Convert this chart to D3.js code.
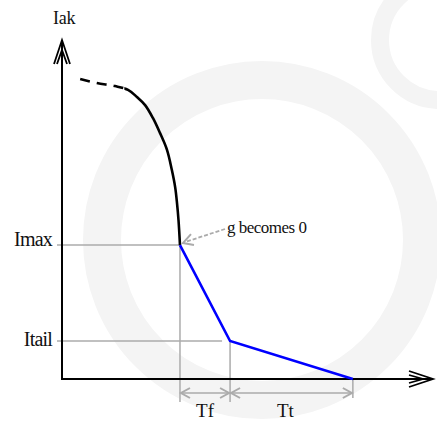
<!DOCTYPE html>
<html>
<head>
<meta charset="utf-8">
<script src="https://cdn.jsdelivr.net/npm/d3@7"></script>
<style>
  body { margin: 0; background: #fff; }
</style>
</head>
<body>
<div id="chart"></div>
<script>
// Curve before the switch-off point (time, current)
var curveTime = [0.49, 0.94, 1.43, 1.78, 2.02, 2.24, 2.45, 2.64, 2.83, 2.96, 3.05, 3.10, 3.14, 3.18];
var curveCurrent = [8.85, 8.73, 8.64, 8.53, 8.32, 8.08, 7.70, 7.26, 6.76, 6.17, 5.66, 5.19, 4.69, 3.95];
var dashedUntilTime = 1.68; // dashed part before this time

// Linear fall and tail segments
var segTime = [3.18, 4.53, 7.84];
var segCurrent = [3.95, 1.12, 0];

// Level labels and interval labels
var levelLabels = ["Imax", "Itail"];
var levelValues = [3.95, 1.12];
var intervalLabels = ["Tf", "Tt"];

var W = 437, H = 421;
var serif = "'Liberation Serif', 'DejaVu Serif', serif";
var svg = d3.select("#chart").append("svg")
    .attr("width", W).attr("height", H);

var x = d3.scaleLinear().domain([0, 10]).range([62, 433]);
var y = d3.scaleLinear().domain([0, 10]).range([379, 40]);

// faint watermark in the background
var wm = svg.append("g").attr("fill", "none").attr("stroke", "#f4f4f4");
wm.append("circle").attr("cx", 262).attr("cy", 240).attr("r", 160).attr("stroke-width", 38);
wm.append("circle").attr("cx", 440).attr("cy", 40).attr("r", 60).attr("stroke-width", 18);

var grey = "#ababab";

// guide lines for Imax / Itail
svg.selectAll(".hguide")
    .data(levelValues)
    .enter().append("line")
    .attr("x1", 57)
    .attr("x2", function(d, i) { return i == 0 ? x(segTime[0]) : x(segTime[1]) - 8; })
    .attr("y1", function(d) { return y(d); })
    .attr("y2", function(d) { return y(d); })
    .attr("stroke", grey).attr("stroke-width", 1.5);

// vertical guides down to the interval arrows
var vEnds = [402, 402, 398];
svg.selectAll(".vguide")
    .data(segTime)
    .enter().append("line")
    .attr("x1", function(d) { return x(d); })
    .attr("x2", function(d) { return x(d); })
    .attr("y1", function(d, i) { return y(segCurrent[i]); })
    .attr("y2", function(d, i) { return vEnds[i]; })
    .attr("stroke", grey).attr("stroke-width", 1.5);

// interval arrows Tf and Tt
var arrowY = 393;
function chevron(g, tipX, tipY, dir, col, len, half, sw) {
    g.append("path")
        .attr("d", "M" + (tipX + dir * len) + "," + (tipY - half) + "L" + tipX + "," + tipY + "L" + (tipX + dir * len) + "," + (tipY + half))
        .attr("fill", "none").attr("stroke", col).attr("stroke-width", sw);
}
var intervals = svg.append("g");
for (var i = 0; i < 2; i++) {
    var a = x(segTime[i]) + 1, b = x(segTime[i + 1]) - 1;
    intervals.append("line")
        .attr("x1", a).attr("x2", b).attr("y1", arrowY).attr("y2", arrowY)
        .attr("stroke", grey).attr("stroke-width", 1.5);
    chevron(intervals, a, arrowY, 1, grey, 9, 5, 2);
    chevron(intervals, b, arrowY, -1, grey, 9, 5, 2);
    svg.append("text")
        .attr("x", (a + b) / 2 + (i == 0 ? 0 : -6))
        .attr("y", 417)
        .attr("text-anchor", "middle")
        .attr("font-family", serif)
        .attr("font-size", 19)
        .attr("fill", "#111")
        .text(intervalLabels[i]);
}

// axes
svg.append("line").attr("x1", x(0)).attr("x2", x(0)).attr("y1", y(0)).attr("y2", y(10) + 2)
    .attr("stroke", "#000").attr("stroke-width", 2);
svg.append("line").attr("x1", x(0) - 1).attr("x2", x(10) - 2).attr("y1", y(0)).attr("y2", y(0))
    .attr("stroke", "#000").attr("stroke-width", 2);
// y arrow head
svg.append("path")
    .attr("d", "M54,64L62,40L70,64M57,64L62,50L67,64")
    .attr("fill", "none").attr("stroke", "#000").attr("stroke-width", 1.8);
// x arrow head
svg.append("path")
    .attr("d", "M409,371L433,379L409,387M409,375L423,379L409,383")
    .attr("fill", "none").attr("stroke", "#000").attr("stroke-width", 1.8);

// curve before Imax: one smooth path, dashed on the left, solid on the right
var pts = curveTime.map(function(t, i) { return [t, curveCurrent[i]]; });
var lineC = d3.line()
    .x(function(d) { return x(d[0]); })
    .y(function(d) { return y(d[1]); })
    .curve(d3.curveCatmullRom.alpha(0.5));
var defs = svg.append("defs");
defs.append("clipPath").attr("id", "left")
    .append("rect").attr("x", 0).attr("y", 0).attr("width", x(dashedUntilTime)).attr("height", H);
defs.append("clipPath").attr("id", "right")
    .append("rect").attr("x", x(dashedUntilTime)).attr("y", 0).attr("width", W).attr("height", H);

svg.append("path")
    .datum(pts)
    .attr("d", lineC)
    .attr("clip-path", "url(#left)")
    .attr("fill", "none").attr("stroke", "#000").attr("stroke-width", 2.6)
    .attr("stroke-dasharray", "10,7");
svg.append("path")
    .datum(pts)
    .attr("d", lineC)
    .attr("clip-path", "url(#right)")
    .attr("fill", "none").attr("stroke", "#000").attr("stroke-width", 2.6);

// linear fall and tail (blue)
svg.append("path")
    .datum(segTime.map(function(t, i) { return [t, segCurrent[i]]; }))
    .attr("d", d3.line().x(function(d) { return x(d[0]); }).y(function(d) { return y(d[1]); }))
    .attr("fill", "none").attr("stroke", "#0000ff").attr("stroke-width", 2.6);

// "g becomes 0" annotation
var tipX = x(segTime[0]) + 3, tipY = y(segCurrent[0]) - 2;
svg.append("line")
    .attr("x1", 225).attr("y1", 229).attr("x2", tipX + 2).attr("y2", tipY - 1)
    .attr("stroke", grey).attr("stroke-width", 1.8).attr("stroke-dasharray", "4,2");
svg.append("path")
    .attr("d", "M" + (tipX + 8) + "," + (tipY - 9) + "L" + tipX + "," + tipY + "L" + (tipX + 11) + "," + (tipY + 2))
    .attr("fill", "none").attr("stroke", grey).attr("stroke-width", 2);
svg.append("text")
    .attr("x", 227).attr("y", 233)
    .attr("font-family", serif)
    .attr("font-size", 17)
    .attr("fill", "#111")
    .style("letter-spacing", "-0.5px")
    .text("g becomes 0");

// level labels
svg.selectAll(".lvl")
    .data(levelLabels)
    .enter().append("text")
    .attr("x", 52)
    .attr("y", function(d, i) { return y(levelValues[i]) + (i == 0 ? 1 : 5); })
    .attr("text-anchor", "end")
    .attr("font-family", serif)
    .attr("font-size", 20)
    .attr("fill", "#111")
    .style("letter-spacing", "-0.8px")
    .text(function(d) { return d; });

// axis title
svg.append("text")
    .attr("x", 53).attr("y", 24)
    .attr("font-family", serif)
    .attr("font-size", 18)
    .attr("fill", "#111")
    .style("letter-spacing", "-0.3px")
    .text("Iak");
</script>
</body>
</html>
